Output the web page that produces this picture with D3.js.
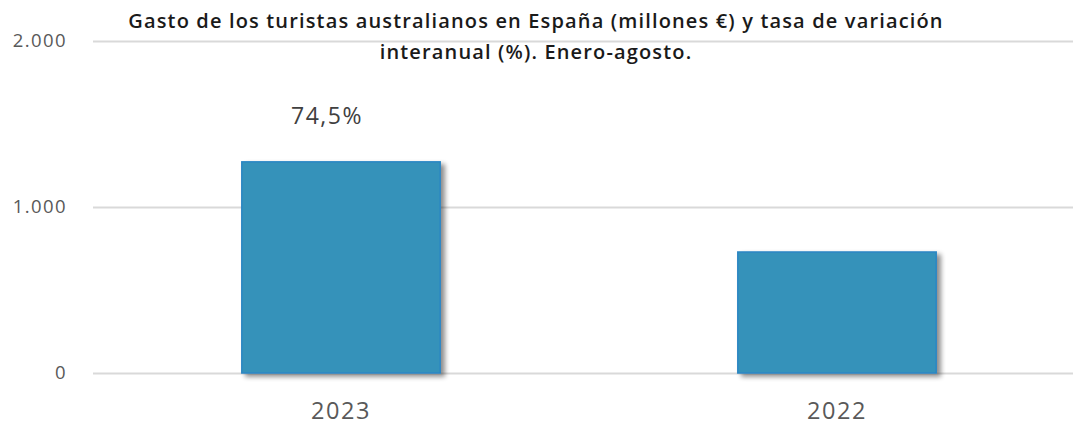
<!DOCTYPE html>
<html><head><meta charset="utf-8">
<script src="https://cdn.jsdelivr.net/npm/d3@7"></script>
<style>
html,body{margin:0;padding:0;background:#fff;}
svg{display:block;font-family:"Open Sans","DejaVu Sans",sans-serif;}
</style></head>
<body><svg id="c" width="1073" height="425"></svg>
<script>
const categories = ["2023", "2022"];
const values = [1272, 729];
const changeLabels = ["74,5%", ""];
const yTicks = [0, 1000, 2000];
const titleLines = ["Gasto de los turistas australianos en España (millones €) y tasa de variación", "interanual (%). Enero-agosto."];

const svg = d3.select("#c");
const margin = {left: 93, right: -12, top: 41, bottom: 52};
const W = 1073, H = 425;

const x = d3.scaleBand().domain(categories).range([margin.left, W - margin.right]).paddingInner(0.6).paddingOuter(0.3);
const y = d3.scaleLinear().domain([0, 2000]).range([H - margin.bottom, margin.top]);

const defs = svg.append("defs");
const f = defs.append("filter").attr("id","sh").attr("x","-10%").attr("y","-10%").attr("width","130%").attr("height","130%");
f.append("feGaussianBlur").attr("in","SourceAlpha").attr("stdDeviation",2.5).attr("result","b");
f.append("feOffset").attr("in","b").attr("dx",4).attr("dy",3).attr("result","o");
f.append("feComponentTransfer").attr("in","o").attr("result","o2").append("feFuncA").attr("type","linear").attr("slope",0.45);
const m = f.append("feMerge"); m.append("feMergeNode").attr("in","o2"); m.append("feMergeNode").attr("in","SourceGraphic");

const fmt = d => d3.format(",")(d).replace(/,/g, ".");

// grid
svg.append("g").selectAll("line").data(yTicks).join("line")
  .attr("x1", margin.left).attr("x2", W)
  .attr("y1", d => Math.round(y(d)) + 0.5).attr("y2", d => Math.round(y(d)) + 0.5)
  .attr("stroke", "#d9d9d9").attr("stroke-width", 2);

// y axis labels
const yAxis = d3.axisLeft(y).tickValues(yTicks).tickFormat(fmt).tickSize(0).tickPadding(26);
const ga = svg.append("g").attr("transform", `translate(${margin.left},0)`).call(yAxis);
ga.select(".domain").remove();
ga.selectAll("text").attr("font-size", 18.5).attr("letter-spacing", 1.4).attr("fill", "#595959").attr("font-family", "'Open Sans',sans-serif");

// bars
svg.append("g").selectAll("rect").data(values).join("rect")
  .attr("x", (d,i) => x(categories[i])).attr("width", x.bandwidth())
  .attr("y", d => y(d)).attr("height", d => y(0) - y(d))
  .attr("fill", "#3592ba").attr("stroke", "#2b86c4").attr("stroke-width", 1.5)
  .attr("filter", "url(#sh)");

// x axis
const xAxis = d3.axisBottom(x).tickSize(0).tickPadding(29.5);
const gx = svg.append("g").attr("transform", `translate(0,${y(0)})`).call(xAxis);
gx.select(".domain").remove();
gx.selectAll("text").attr("font-size", 23.5).attr("letter-spacing", 1.6).attr("fill", "#595959").attr("font-family", "'Open Sans',sans-serif");

// data labels
svg.append("g").selectAll("text").data(changeLabels).join("text")
  .attr("x", (d,i) => x(categories[i]) + x.bandwidth()/2 - 14)
  .attr("y", 124)
  .attr("text-anchor", "middle").attr("font-size", 23).attr("letter-spacing", 1.5).attr("fill", "#404040")
  .text(d => d);

// title
svg.append("g").selectAll("text").data(titleLines).join("text")
  .attr("x", 536).attr("y", (d,i) => 28 + i*31)
  .attr("text-anchor", "middle").attr("font-size", 20).attr("letter-spacing", 1.15).attr("font-weight", 600).attr("fill", "#1a1a1a")
  .text(d => d);
</script></body></html>
